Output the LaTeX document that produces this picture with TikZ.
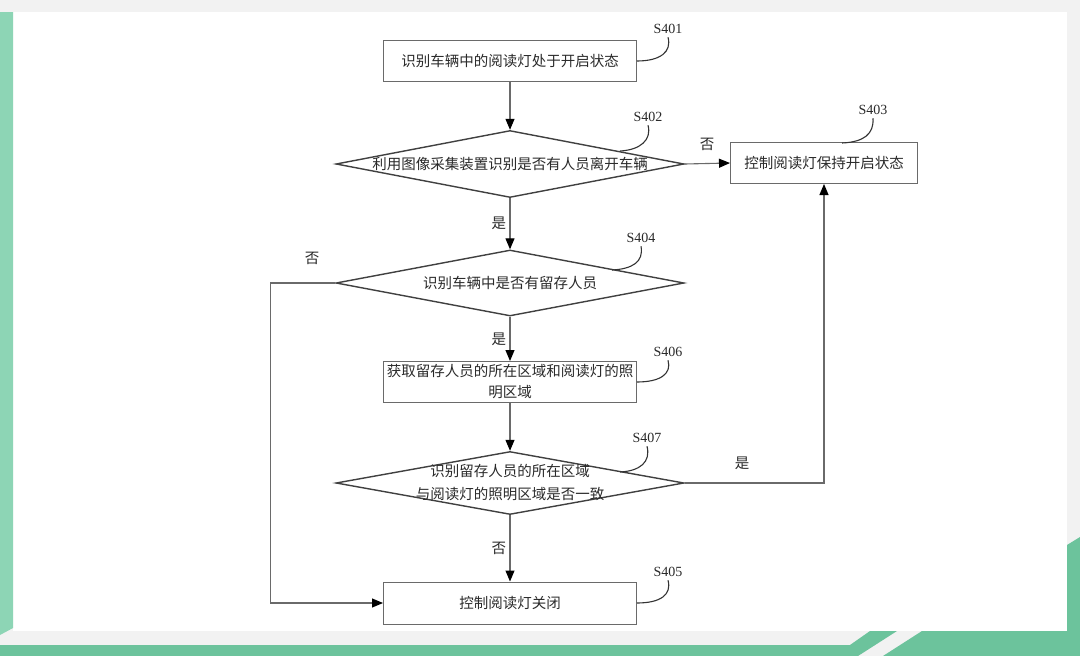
\documentclass[tikz,border=0pt]{standalone}
\usepackage{fontspec}
\setmainfont{Liberation Serif}
\newfontfamily\cjk{Noto Sans CJK SC}
\usepackage{xcolor}
\usetikzlibrary{shapes.geometric, positioning, arrows.meta}
\definecolor{leafgreen}{HTML}{6CC39C}
\definecolor{mintgreen}{HTML}{8DD5B5}
\definecolor{panelgray}{HTML}{F2F2F2}
\definecolor{inkgray}{HTML}{2A2A2A}
\definecolor{linegray}{HTML}{6A6A6A}
\tikzset{
  stepbox/.style={draw=linegray, line width=1pt, minimum width=253pt, minimum height=41pt, inner sep=2pt, align=center, text=inkgray, font=\cjk\fontsize{14.5}{21}\selectfont},
  decision/.style={diamond, draw=black!75, line width=1.4pt, inner sep=0pt, minimum width=348pt, minimum height=67pt, text=inkgray, font=\cjk\fontsize{14.5}{23}\selectfont},
  flow/.style={draw=linegray, line width=1.1pt, -{Triangle[length=11pt, width=9pt, color=black]}},
  answer/.style={text=inkgray, font=\cjk\fontsize{14.5}{16}\selectfont},
  steptag/.style={text=inkgray, font=\fontsize{14}{16}\selectfont},
  leader/.style={draw=black!80, line width=1.1pt}
}
\begin{document}
\begin{tikzpicture}[x=1pt, y=-1pt]
  \useasboundingbox (0,0) rectangle (1080,656);
  % background
  \fill[panelgray] (0,0) rectangle (1080,656);
  \fill[white] (13,12) rectangle (1067,631);
  \fill[mintgreen] (0,12) -- (13,12) -- (13,628) -- (0,635) -- cycle;
  \fill[leafgreen] (0,645) -- (850,645) -- (870,631) -- (897,631) -- (858,656) -- (0,656) -- cycle;
  \fill[leafgreen] (883,656) -- (922,631) -- (1067,631) -- (1067,545) -- (1080,537) -- (1080,656) -- cycle;

  % steps
  \node[stepbox] at (510,61) (s401) {识别车辆中的阅读灯处于开启状态};
  \node[decision] at (510,164) (s402) {\makebox[0pt]{利用图像采集装置识别是否有人员离开车辆}};
  \node[stepbox, minimum width=187pt] at (824,163) (s403) {控制阅读灯保持开启状态};
  \node[decision, minimum height=66pt] at (510,283) (s404) {\makebox[0pt]{识别车辆中是否有留存人员}};
  \node[stepbox] at (510,382) (s406) {获取留存人员的所在区域和阅读灯的照\\明区域};
  \node[decision, minimum height=63pt] at (510,483) (s407) {\makebox[0pt]{\begin{tabular}{@{}c@{}}识别留存人员的所在区域\\与阅读灯的照明区域是否一致\end{tabular}}};
  \node[stepbox, minimum height=42pt] at (510,603) (s405) {控制阅读灯关闭};

  % connectors
  \draw[flow] (s401.south) -- (s402.north);
  \draw[flow] (s402.east) -- (s403.west);
  \draw[flow] (s402.south) -- node[answer, left] (yes402) {是} (s404.north);
  \draw[flow] (s404.west) -- ++(-65,0) |- (s405.west);
  \draw[flow] (s404.south) -- node[answer, left] (yes404) {是} (s406.north);
  \draw[flow] (s406.south) -- (s407.north);
  \draw[flow] (s407.east) -| (s403.south);
  \draw[flow] (s407.south) -- node[answer, left] (no407) {否} (s405.north);
  \node[answer] at (707,144) (no402) {否};
  \node[answer] at (312,258) (no404) {否};
  \node[answer] at (742,463) (yes407) {是};

  % step numbers
  \node[steptag] at (668,29) (t401) {S401};
  \node[steptag] at (648,117) (t402) {S402};
  \node[steptag] at (873,110) (t403) {S403};
  \node[steptag] at (641,238) (t404) {S404};
  \node[steptag] at (668,352) (t406) {S406};
  \node[steptag] at (647,438) (t407) {S407};
  \node[steptag] at (668,572) (t405) {S405};
  \draw[leader] (s401.east) .. controls (660,61) and (672,52) .. (t401.south);
  \draw[leader] (620,151) .. controls (640,150) and (652,140) .. (t402.south);
  \draw[leader] (842,143) .. controls (864,142) and (874,134) .. (t403.south);
  \draw[leader] (612,270) .. controls (632,269) and (644,262) .. (t404.south);
  \draw[leader] (s406.east) .. controls (660,382) and (672,374) .. (t406.south);
  \draw[leader] (620,472) .. controls (640,471) and (651,462) .. (t407.south);
  \draw[leader] (s405.east) .. controls (660,603) and (672,595) .. (t405.south);
\end{tikzpicture}
\end{document}
